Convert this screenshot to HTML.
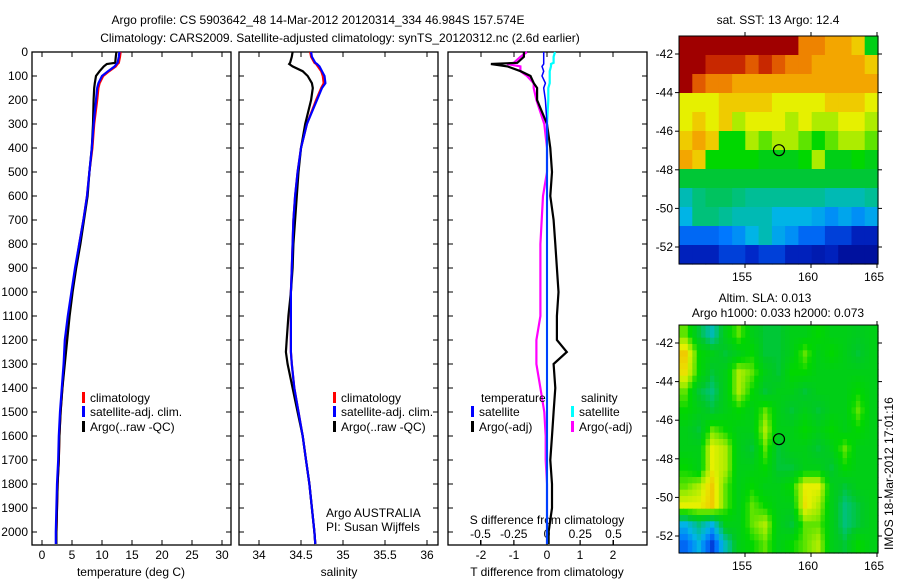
<!DOCTYPE html>
<html><head><meta charset="utf-8"><style>
body{margin:0;background:#fff}
svg{display:block;font-family:"Liberation Sans",sans-serif;font-size:12px}
</style></head><body>
<svg id="s" width="900" height="580">
<text x="318" y="24" text-anchor="middle">Argo profile: CS 5903642_48 14-Mar-2012 20120314_334 46.984S 157.574E</text>
<text x="340" y="42" text-anchor="middle">Climatology: CARS2009. Satellite-adjusted climatology: synTS_20120312.nc (2.6d earlier)</text>
</svg>
<script>
const depth=[0,20,45,50,60,80,100,130,150,200,300,400,500,600,700,800,900,1000,1100,1200,1250,1300,1400,1500,1600,1700,1800,1900,2000,2050];
const tClim=[13.1,13,12.8,12.6,12.3,11.2,10.2,9.6,9.4,9.2,8.7,8.4,7.9,7.5,6.9,6.2,5.6,5.0,4.4,3.9,3.8,3.7,3.4,3.1,2.9,2.8,2.6,2.5,2.4,2.4];
const tSat=[12.9,12.8,12.6,12.4,12.1,11,10,9.4,9.2,9.0,8.6,8.3,7.9,7.5,6.9,6.2,5.5,4.9,4.3,3.8,3.7,3.6,3.3,3.0,2.8,2.7,2.5,2.4,2.3,2.3];
const tArgo=[12.4,12.3,12.2,10.8,10.3,9.6,9.0,8.8,8.7,8.6,8.5,8.3,7.9,7.6,7.0,6.4,5.7,5.1,4.6,4.2,4.0,3.8,3.4,3.1,2.9,2.8,2.6,2.5,2.4,2.4];
const sClim=[34.61,34.62,34.66,34.68,34.70,34.74,34.76,34.77,34.74,34.68,34.57,34.50,34.46,34.43,34.41,34.40,34.39,34.38,34.38,34.38,34.38,34.39,34.42,34.47,34.52,34.56,34.60,34.63,34.66,34.67];
const sSat=[34.62,34.63,34.67,34.69,34.72,34.75,34.78,34.79,34.75,34.69,34.57,34.50,34.46,34.43,34.41,34.40,34.39,34.38,34.38,34.38,34.38,34.39,34.42,34.47,34.52,34.56,34.60,34.63,34.66,34.67];
const sArgo=[34.40,34.39,34.37,34.36,34.40,34.52,34.58,34.63,34.64,34.62,34.55,34.50,34.47,34.45,34.43,34.41,34.40,34.38,34.35,34.33,34.32,34.34,34.40,34.46,34.52,34.56,34.60,34.63,34.66,34.67];
const dT_sat=[-0.1,-0.1,-0.1,-0.1,-0.15,-0.1,-0.15,-0.05,-0.1,-0.05,0,0,0,0,0,0,0,0,0,0,0,0,0,0,0,0,0,0,0,0];
const dT_argo=[-0.7,-0.7,-0.9,-1.7,-1.2,-0.8,-0.5,-0.4,-0.3,-0.3,0,0.1,0.15,0.1,0.2,0.25,0.3,0.35,0.3,0.3,0.6,0.2,0.25,0.2,0.15,0.1,0.15,0.15,0.05,0.05];
const dS_sat=[0.06,0.05,0.05,0.03,0.03,0.02,0.02,0.02,0.01,0.01,0,0,0,0,0,0,0,0,0,0,0,0,0,0,0,0,0,0,0,0];
const dS_argo=[-0.15,-0.2,-0.25,-0.3,-0.2,-0.2,-0.15,-0.1,-0.1,-0.08,-0.02,0,0,-0.03,-0.04,-0.05,-0.05,-0.05,-0.05,-0.08,-0.08,-0.08,-0.05,-0.02,-0.01,-0.01,0,0,0,0];
const tTicks=[0,5,10,15,20,25,30];
const sTicks=[34,34.5,35,35.5,36];
const tdTicks=[-2,-1,0,1,2];
const sdTicks=[-0.5,-0.25,0,0.25,0.5];
const sdLabels=["-0.5","-0.25","0","0.25","0.5"];
const dTicks=[0,100,200,300,400,500,600,700,800,900,1000,1100,1200,1300,1400,1500,1600,1700,1800,1900,2000];
const lonTicks=[155,160,165];
const latTicks=[-42,-44,-46,-48,-50,-52];
const sst=[
[1,1,1,1,1,1,1,1,1,.85,.85,.8,.8,.75,.5],
[1,1,.95,.95,.95,.9,.95,.9,.85,.85,.8,.8,.8,.8,.75],
[1,.9,.85,.85,.8,.8,.8,.8,.8,.8,.8,.8,.8,.8,.8],
[.7,.7,.7,.75,.75,.75,.75,.7,.7,.7,.7,.75,.75,.75,.7],
[.7,.75,.7,.75,.65,.7,.7,.7,.65,.7,.65,.65,.7,.7,.65],
[.75,.8,.75,.55,.55,.65,.6,.65,.65,.6,.55,.6,.65,.65,.6],
[.8,.75,.55,.55,.55,.55,.5,.5,.5,.55,.65,.5,.5,.55,.5],
[.45,.45,.45,.45,.45,.45,.45,.45,.45,.45,.45,.45,.45,.45,.45],
[.35,.4,.42,.42,.4,.38,.38,.38,.38,.38,.38,.35,.35,.35,.38],
[.3,.4,.4,.38,.35,.35,.35,.3,.3,.3,.28,.25,.28,.25,.28],
[.2,.2,.2,.22,.25,.3,.35,.28,.25,.2,.2,.15,.15,.1,.1],
[.1,.1,.1,.15,.15,.12,.15,.15,.1,.1,.08,.1,.05,.05,.05]];
const sla=[
[.6,.45,.35,.5,.6,.5,.45,.45,.5,.5,.55,.5,.5,.48,.5],
[.75,.55,.5,.45,.5,.55,.45,.45,.5,.6,.5,.55,.5,.45,.5],
[.72,.55,.45,.5,.65,.6,.5,.45,.55,.55,.5,.5,.5,.5,.5],
[.6,.45,.4,.5,.65,.55,.45,.5,.5,.45,.5,.5,.5,.55,.5],
[.55,.5,.45,.5,.55,.5,.6,.5,.45,.5,.45,.5,.5,.6,.5],
[.5,.45,.6,.55,.5,.5,.65,.5,.5,.55,.5,.55,.5,.55,.5],
[.5,.5,.7,.65,.5,.45,.6,.45,.5,.5,.45,.5,.6,.5,.5],
[.55,.5,.7,.65,.5,.5,.55,.45,.45,.5,.5,.45,.55,.5,.5],
[.6,.65,.75,.6,.5,.55,.5,.5,.55,.7,.7,.5,.45,.5,.5],
[.7,.7,.75,.6,.5,.6,.55,.5,.5,.72,.65,.5,.4,.45,.5],
[.3,.4,.3,.5,.5,.6,.65,.5,.45,.6,.6,.5,.4,.45,.5],
[.2,.3,.15,.35,.5,.55,.6,.5,.55,.6,.65,.5,.45,.55,.5]];

const S=document.getElementById('s');const NS='http://www.w3.org/2000/svg';
function mk(t,a,txt){const e=document.createElementNS(NS,t);for(const k in a)e.setAttribute(k,a[k]);if(txt!=null)e.textContent=txt;S.appendChild(e);return e;}
const yD=d=>52+d*0.24;
const xT=v=>42+v*6, xS=v=>259+(v-34)*84, xTD=v=>547+v*33, xSD=v=>547+v*133;
function frame(x0,name){const r=mk('rect',{x:x0,y:52,width:199,height:493,fill:'none',stroke:'#000','stroke-width':1.3});
}
frame(32,'temperature-panel');frame(239,'salinity-panel');frame(448,'difference-panel');
dTicks.forEach(d=>{const y=yD(d);mk('line',{x1:32,x2:37,y1:y,y2:y,stroke:'#000'});mk('line',{x1:226,x2:231,y1:y,y2:y,stroke:'#000'});
mk('line',{x1:239,x2:244,y1:y,y2:y,stroke:'#000'});mk('line',{x1:433,x2:438,y1:y,y2:y,stroke:'#000'});
mk('line',{x1:448,x2:453,y1:y,y2:y,stroke:'#000'});mk('line',{x1:642,x2:647,y1:y,y2:y,stroke:'#000'});
const t=mk('text',{x:28,y:y+4,'text-anchor':'end'},d);});
function xticks(arr,f,labels,yb,ly){arr.forEach((v,i)=>{const x=f(v);mk('line',{x1:x,x2:x,y1:yb,y2:yb-5,stroke:'#000'});mk('line',{x1:x,x2:x,y1:52,y2:57,stroke:'#000'});
const t=mk('text',{x:x,y:ly,'text-anchor':'middle'},labels?labels[i]:v);});}
xticks(tTicks,xT,null,545,559);xticks(sTicks,xS,null,545,559);xticks(tdTicks,xTD,null,545,559);
sdTicks.forEach((v,i)=>{const x=xSD(v);mk('line',{x1:x,x2:x,y1:545,y2:540,stroke:'#000'});const t=mk('text',{x:x,y:538,'text-anchor':'middle'},sdLabels[i]);});
function lab(x,y,s,n,a){const t=mk('text',{x:x,y:y,'text-anchor':a||'middle'},s);}
lab(131,576,'temperature (deg C)','x-axis-title-temperature');lab(339,576,'salinity','x-axis-title-salinity');
lab(547,576,'T difference from climatology','x-axis-title-tdiff');lab(547,524,'S difference from climatology','s-diff-axis-title');
lab(326,517,'Argo AUSTRALIA','argo-agency','start');lab(326,531,'PI: Susan Wijffels','pi-name','start');
function line(xs,f,col,n,w){const p=mk('polyline',{points:xs.map((v,i)=>f(v).toFixed(1)+','+yD(depth[i]).toFixed(1)).join(' '),fill:'none',stroke:col,'stroke-width':w||2.2});
}
line(tClim,xT,'#f00','temp-climatology-line');line(tArgo,xT,'#000','temp-argo-line');line(tSat,xT,'#00f','temp-satellite-line');
line(sClim,xS,'#f00','sal-climatology-line');line(sArgo,xS,'#000','sal-argo-line');line(sSat,xS,'#00f','sal-satellite-line');
line(dS_argo,xSD,'#f0f','sdiff-argo-line');line(dT_argo,xTD,'#000','tdiff-argo-line');line(dS_sat,xSD,'#0ff','sdiff-satellite-line');line(dT_sat,xTD,'#00f','tdiff-satellite-line',1.5);
function leg(x,y,col,s,n){const r=mk('rect',{x:x,y:y-10,width:3,height:11,fill:col});lab(x+8,y,s,n,'start');}
[[82],[333]].forEach(([x],k)=>{const p=k?'sal':'temp';leg(x,402,'#f00','climatology',p+'-legend-climatology');leg(x,416,'#00f','satellite-adj. clim.',p+'-legend-satellite');leg(x,431,'#000','Argo(..raw -QC)',p+'-legend-argo');});
lab(481,402,'temperature','legend-temperature-header','start');lab(581,402,'salinity','legend-salinity-header','start');
leg(471,416,'#00f','satellite','legend-t-satellite');leg(471,431,'#000','Argo(-adj)','legend-t-argo');
leg(571,416,'#0ff','satellite','legend-s-satellite');leg(571,431,'#f0f','Argo(-adj)','legend-s-argo');
const stops=[[0,0,0,128],[.12,0,40,200],[.22,0,120,255],[.3,0,180,230],[.38,0,190,150],[.46,0,200,40],[.55,0,215,0],[.63,150,235,0],[.7,230,240,0],[.78,245,180,0],[.88,235,110,0],[.95,200,40,0],[1,160,0,0]];
function cmap(v){for(let i=1;i<stops.length;i++){if(v<=stops[i][0]){const a=stops[i-1],b=stops[i],t=(v-a[0])/(b[0]-a[0]);return 'rgb('+[1,2,3].map(k=>Math.round(a[k]+(b[k]-a[k])*t)).join(',')+')';}}return 'rgb(160,0,0)';}
function sample(g,fx,fy){const ny=g.length,nx=g[0].length;const x=Math.min(Math.max(fx*nx-0.5,0),nx-1),y=Math.min(Math.max(fy*ny-0.5,0),ny-1);
const i=Math.floor(x),j=Math.floor(y),i1=Math.min(i+1,nx-1),j1=Math.min(j+1,ny-1),tx=x-i,ty=y-j;
return g[j][i]*(1-tx)*(1-ty)+g[j][i1]*tx*(1-ty)+g[j1][i]*(1-tx)*ty+g[j1][i1]*tx*ty;}
function map(grid,y0,name,smooth){const x0=679,W=199,H=228;const nx=smooth?45:grid[0].length,ny=smooth?36:grid.length;
for(let j=0;j<ny;j++)for(let i=0;i<nx;i++){const v=smooth?sample(grid,(i+0.5)/nx,(j+0.5)/ny):grid[j][i];
const c=mk('rect',{x:(x0+i*W/nx).toFixed(1),y:(y0+j*H/ny).toFixed(1),width:(W/nx+0.6).toFixed(1),height:(H/ny+0.6).toFixed(1),fill:cmap(v)});
}
const f=mk('rect',{x:x0,y:y0,width:W,height:H,fill:'none',stroke:'#000'});
const xl=l=>x0+(l-150)*13.2, yl=la=>y0+18+(-42-la)*19.3;
lonTicks.forEach(l=>{const x=xl(l);mk('line',{x1:x,x2:x,y1:y0+H,y2:y0+H+4,stroke:'#000'});mk('line',{x1:x,x2:x,y1:y0,y2:y0-4,stroke:'#000'});lab(x-3,y0+H+17,l,name+'-lon-label');});
latTicks.forEach(la=>{const y=yl(la);mk('line',{x1:x0,x2:x0-4,y1:y,y2:y,stroke:'#000'});mk('line',{x1:x0+W,x2:x0+W+4,y1:y,y2:y,stroke:'#000'});lab(x0-6,y+4,la,name+'-lat-label','end');});
const c=mk('circle',{cx:xl(157.574),cy:yl(-46.984),r:5.5,fill:'none',stroke:'#000','stroke-width':1.2});}
map(sst,36,'sst-map',false);map(sla,325,'sla-map',true);
lab(778,24,'sat. SST: 13 Argo: 12.4','sst-map-title');lab(765,302,'Altim. SLA: 0.013','sla-map-title-1');lab(778,317,'Argo h1000: 0.033 h2000: 0.073','sla-map-title-2');
const r=mk('text',{x:0,y:0,transform:'translate(893,550) rotate(-90)'},'IMOS 18-Mar-2012 17:01:16');
</script>
</body></html>
